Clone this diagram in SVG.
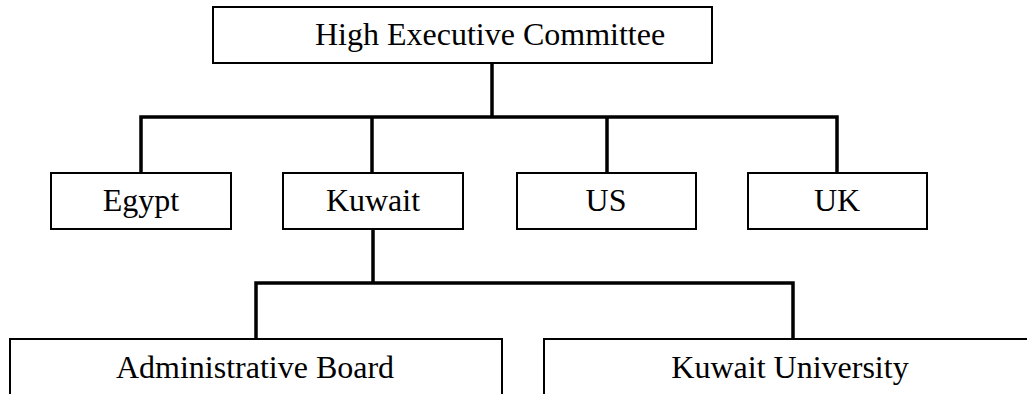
<svg xmlns="http://www.w3.org/2000/svg" width="1027" height="394" viewBox="0 0 1027 394">
<style>
.box{fill:#fff;stroke:#000;stroke-width:2}
.lbl{font-family:"Liberation Serif","Times New Roman",serif;font-size:32px;fill:#000;text-anchor:middle}
.con{fill:none;stroke:#000;stroke-width:3.5;stroke-linejoin:miter;stroke-linecap:butt}
</style>
<rect width="1027" height="394" fill="#fff"/>
<g id="connectors">
<path class="con" d="M492 63 V117"/>
<path class="con" d="M141 173 V117 H837 V173"/>
<path class="con" d="M372 117 V173"/>
<path class="con" d="M607 117 V173"/>
<path class="con" d="M373 229 V283"/>
<path class="con" d="M256 339 V283 H793 V339"/>
</g>
<g id="node-hec">
<rect class="box" x="213" y="7" width="499" height="56"/>
<text class="lbl" x="315" y="45" style="text-anchor:start">High Executive Committee</text>
</g>
<g id="node-egypt">
<rect class="box" x="51" y="173" width="180" height="56"/>
<text class="lbl" x="141" y="211">Egypt</text>
</g>
<g id="node-kuwait">
<rect class="box" x="283" y="173" width="180" height="56"/>
<text class="lbl" x="373" y="211">Kuwait</text>
</g>
<g id="node-us">
<rect class="box" x="517" y="173" width="179" height="56"/>
<text class="lbl" x="606" y="211">US</text>
</g>
<g id="node-uk">
<rect class="box" x="748" y="173" width="179" height="56"/>
<text class="lbl" x="837" y="211">UK</text>
</g>
<g id="node-admin">
<rect class="box" x="10" y="339" width="492" height="80"/>
<text class="lbl" x="255" y="378">Administrative Board</text>
</g>
<g id="node-ku">
<rect class="box" x="544" y="339" width="500" height="80"/>
<text class="lbl" x="790" y="378">Kuwait University</text>
</g>
</svg>
